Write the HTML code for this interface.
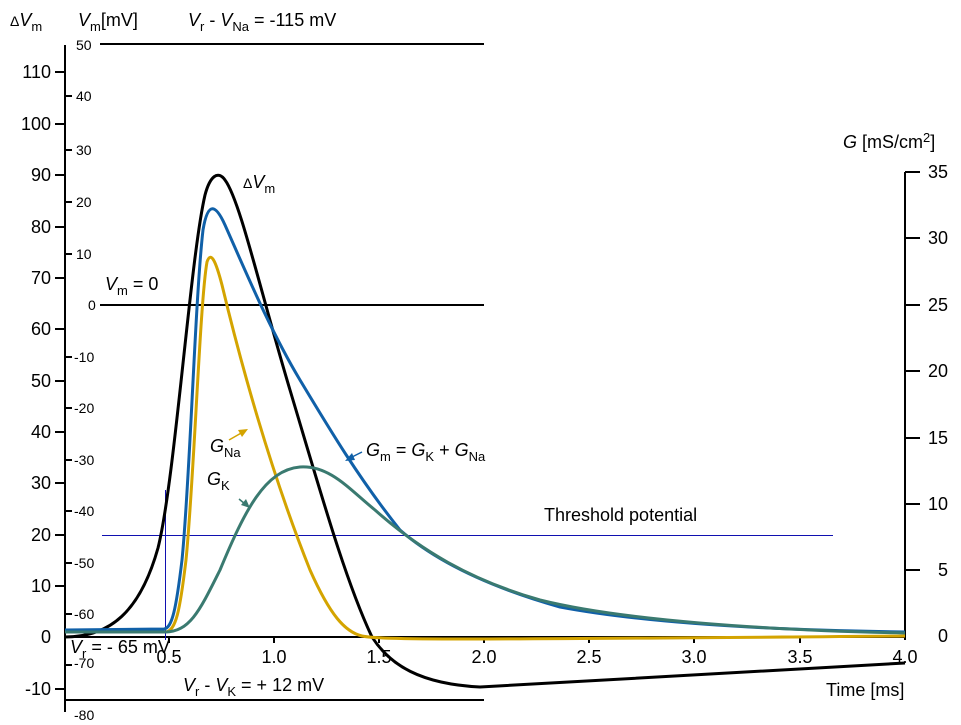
<!DOCTYPE html>
<html><head><meta charset="utf-8"><style>
html,body{margin:0;padding:0;background:#fff}
svg{display:block}
text{font-family:"Liberation Sans",Arial,sans-serif;fill:#000}
.t{font-size:18px}
.s{font-size:14px}
.i{font-style:italic}
.sub{font-size:13px}
</style></head><body>
<svg width="961" height="725" viewBox="0 0 961 725" xmlns="http://www.w3.org/2000/svg">
<g stroke="#000" stroke-width="2" fill="none">
<line x1="65" y1="45" x2="65" y2="712"/>
<line x1="65" y1="637" x2="905" y2="637"/>
<line x1="905" y1="172" x2="905" y2="640"/>
<line x1="100" y1="44" x2="484" y2="44"/>
<line x1="100" y1="305" x2="484" y2="305"/>
<line x1="65" y1="700" x2="484" y2="700"/>
<line x1="55" y1="72" x2="65" y2="72"/><line x1="55" y1="124" x2="65" y2="124"/>
<line x1="55" y1="175" x2="65" y2="175"/><line x1="55" y1="227" x2="65" y2="227"/>
<line x1="55" y1="278" x2="65" y2="278"/><line x1="55" y1="329" x2="65" y2="329"/>
<line x1="55" y1="381" x2="65" y2="381"/><line x1="55" y1="432" x2="65" y2="432"/>
<line x1="55" y1="483" x2="65" y2="483"/><line x1="55" y1="535" x2="65" y2="535"/>
<line x1="55" y1="586" x2="65" y2="586"/><line x1="55" y1="689" x2="65" y2="689"/>
<line x1="65" y1="96" x2="72" y2="96"/><line x1="65" y1="150" x2="72" y2="150"/>
<line x1="65" y1="202" x2="72" y2="202"/><line x1="65" y1="254" x2="72" y2="254"/>
<line x1="65" y1="357" x2="72" y2="357"/><line x1="65" y1="408" x2="72" y2="408"/>
<line x1="65" y1="460" x2="72" y2="460"/><line x1="65" y1="511" x2="72" y2="511"/>
<line x1="65" y1="563" x2="72" y2="563"/><line x1="65" y1="614" x2="72" y2="614"/>
<line x1="65" y1="665" x2="72" y2="665"/>
<line x1="905" y1="172" x2="920" y2="172"/><line x1="905" y1="238" x2="920" y2="238"/>
<line x1="905" y1="305" x2="920" y2="305"/><line x1="905" y1="371" x2="920" y2="371"/>
<line x1="905" y1="438" x2="920" y2="438"/><line x1="905" y1="504" x2="920" y2="504"/>
<line x1="905" y1="570" x2="920" y2="570"/>
<line x1="169" y1="637" x2="169" y2="643"/><line x1="274" y1="637" x2="274" y2="643"/>
<line x1="379" y1="637" x2="379" y2="643"/><line x1="484" y1="637" x2="484" y2="643"/>
<line x1="589" y1="637" x2="589" y2="643"/><line x1="694" y1="637" x2="694" y2="643"/>
<line x1="800" y1="637" x2="800" y2="643"/>
</g>
<line x1="102" y1="535.5" x2="833" y2="535.5" stroke="#1010b0" stroke-width="1"/>
<line x1="165.5" y1="490" x2="165.5" y2="640" stroke="#1010b0" stroke-width="1"/>

<path d="M65,637 C110,637 140,612 158,548 C175,480 190,260 205,195 C210,176 218,170 225,180 C240,200 260,290 290,390 C320,490 345,580 372,637 C390,665 420,684 480,687 L905,663" fill="none" stroke="#000" stroke-width="3"/>
<path d="M65,630 L164,629 C172,628 176,610 182,560 C190,480 195,300 203,230 C208,200 216,205 225,225 C245,270 270,330 300,380 C330,430 360,480 400,530 C440,565 500,590 560,607 C640,622 760,630 905,632" fill="none" stroke="#1060a8" stroke-width="3"/>
<path d="M65,632 L165,632 C176,632 180,610 186,560 C194,480 200,300 207,262 C211,250 216,262 222,285 C240,360 270,470 310,570 C330,615 345,632 362,636 C380,640 450,640 905,636" fill="none" stroke="#d4a400" stroke-width="3"/>
<path d="M65,632 L165,632 C190,632 200,610 220,570 C245,510 265,470 300,467 C330,465 350,490 375,510 C420,550 470,580 540,600 C620,620 760,630 905,633" fill="none" stroke="#3a7a70" stroke-width="3"/>

<g stroke-width="1.5">
<line x1="229" y1="440" x2="243" y2="432" stroke="#d4a400"/><polygon points="248,429 238,430 242,437" fill="#d4a400"/>
<line x1="239" y1="499" x2="245" y2="504" stroke="#3a7a70"/><polygon points="250,508 241,505 246,499" fill="#3a7a70"/>
<line x1="362" y1="452" x2="350" y2="458" stroke="#1060a8"/><polygon points="345,461 352,453 355,460" fill="#1060a8"/>
</g>

<g class="t">
<text x="10" y="26"><tspan class="s">Δ</tspan><tspan class="i">V</tspan><tspan class="sub" dy="5">m</tspan></text>
<text x="78" y="26"><tspan class="i">V</tspan><tspan class="sub" dy="5">m</tspan><tspan dy="-5">[mV]</tspan></text>
<text x="188" y="26"><tspan class="i">V</tspan><tspan class="sub" dy="5">r</tspan><tspan dy="-5"> - </tspan><tspan class="i">V</tspan><tspan class="sub" dy="5">Na</tspan><tspan dy="-5"> = -115 mV</tspan></text>
<text x="243" y="188"><tspan class="s">Δ</tspan><tspan class="i">V</tspan><tspan class="sub" dy="5">m</tspan></text>
<text x="105" y="290"><tspan class="i">V</tspan><tspan class="sub" dy="5">m</tspan><tspan dy="-5"> = 0</tspan></text>
<text x="210" y="452"><tspan class="i">G</tspan><tspan class="sub" dy="5">Na</tspan></text>
<text x="207" y="485"><tspan class="i">G</tspan><tspan class="sub" dy="5">K</tspan></text>
<text x="366" y="456"><tspan class="i">G</tspan><tspan class="sub" dy="5">m</tspan><tspan dy="-5"> = </tspan><tspan class="i">G</tspan><tspan class="sub" dy="5">K</tspan><tspan dy="-5"> + </tspan><tspan class="i">G</tspan><tspan class="sub" dy="5">Na</tspan></text>
<text x="544" y="521">Threshold potential</text>
<text x="843" y="148"><tspan class="i">G</tspan> [mS/cm<tspan class="sub" dy="-6">2</tspan><tspan dy="6">]</tspan></text>
<text x="70" y="653"><tspan class="i">V</tspan><tspan class="sub" dy="5">r</tspan><tspan dy="-5"> = - 65 mV</tspan></text>
<text x="183" y="691"><tspan class="i">V</tspan><tspan class="sub" dy="5">r</tspan><tspan dy="-5"> - </tspan><tspan class="i">V</tspan><tspan class="sub" dy="5">K</tspan><tspan dy="-5"> = + 12 mV</tspan></text>
<text x="826" y="696">Time [ms]</text>
</g>
<g class="t" text-anchor="end">
<text x="51" y="78">110</text><text x="51" y="130">100</text><text x="51" y="181">90</text>
<text x="51" y="233">80</text><text x="51" y="284">70</text><text x="51" y="335">60</text>
<text x="51" y="387">50</text><text x="51" y="438">40</text><text x="51" y="489">30</text>
<text x="51" y="541">20</text><text x="51" y="592">10</text><text x="51" y="643">0</text>
<text x="51" y="695">-10</text>
<text x="948" y="178">35</text><text x="948" y="244">30</text><text x="948" y="311">25</text>
<text x="948" y="377">20</text><text x="948" y="444">15</text><text x="948" y="510">10</text>
<text x="948" y="576">5</text><text x="948" y="642">0</text>
</g>
<g class="s">
<text x="76" y="50">50</text><text x="76" y="101">40</text><text x="76" y="155">30</text>
<text x="76" y="207">20</text><text x="76" y="259">10</text><text x="88" y="310">0</text>
<text x="74" y="362">-10</text><text x="74" y="413">-20</text><text x="74" y="465">-30</text>
<text x="74" y="516">-40</text><text x="74" y="568">-50</text><text x="74" y="619">-60</text>
<text x="74" y="668">-70</text><text x="74" y="720">-80</text>
</g>
<g class="t" text-anchor="middle">
<text x="169" y="663">0.5</text><text x="274" y="663">1.0</text><text x="379" y="663">1.5</text>
<text x="484" y="663">2.0</text><text x="589" y="663">2.5</text><text x="694" y="663">3.0</text>
<text x="800" y="663">3.5</text><text x="905" y="663">4.0</text>
</g>
</svg>
</body></html>
